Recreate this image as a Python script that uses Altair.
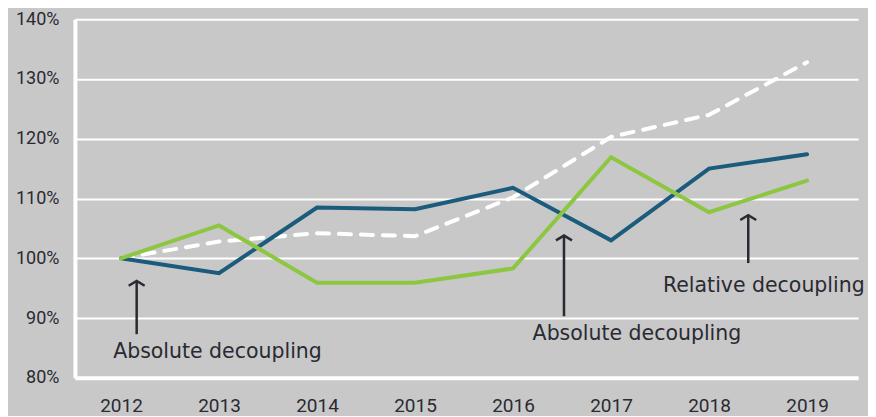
import altair as alt
import pandas as pd

years = [2012, 2013, 2014, 2015, 2016, 2017, 2018, 2019]
blue = [100.0, 97.5, 108.5, 108.2, 111.8, 103.0, 115.0, 117.4]
green = [100.0, 105.5, 95.9, 95.9, 98.3, 116.9, 107.7, 113.0]
dashed = [100.0, 102.8, 104.2, 103.7, 110.2, 120.3, 124.0, 132.8]

arrow_x = [2012.16, 2016.52, 2018.40]
arrow_top = [96.2, 103.8, 107.2]
arrow_bottom = [87.3, 90.3, 99.2]

label_text = ["Absolute decoupling", "Absolute decoupling", "Relative decoupling"]
label_x = [2011.92, 2016.20, 2017.53]
label_y = [83.3, 86.3, 94.3]

y_ticks = [80, 90, 100, 110, 120, 130, 140]

BG = "#c8c8c8"
INK = "#2a2a32"
FONT = "Roboto"
ANN_FONT = "DejaVu Sans"

rows = []
for name, vals in [("blue", blue), ("green", green), ("dashed", dashed)]:
    for yr, v in zip(years, vals):
        rows.append({"year": yr, "value": v, "series": name})
df = pd.DataFrame(rows)

arrows = pd.DataFrame({"x": arrow_x, "top": arrow_top, "bottom": arrow_bottom})
labels = pd.DataFrame({"text": label_text, "x": label_x, "y": label_y})

xscale = alt.Scale(domain=[2011.53, 2019.52], nice=False, zero=False)
yscale = alt.Scale(domain=[80, 140], nice=False, zero=False)

xaxis = alt.Axis(values=years, format="d", title=None, grid=False, ticks=False,
                 domain=True, domainColor="white", domainWidth=4,
                 labelFont=FONT, labelFontSize=19, labelColor=INK,
                 labelPadding=19)
yaxis = alt.Axis(values=y_ticks, labelExpr="datum.value + '%'", title=None,
                 grid=True, gridColor="white", gridWidth=2, ticks=False,
                 domain=True, domainColor="white", domainWidth=4,
                 labelFont=FONT, labelFontSize=18, labelColor=INK,
                 labelPadding=16)

base = alt.Chart(df)

solid = base.transform_filter(alt.datum.series != "dashed").mark_line(
    strokeWidth=4, strokeCap="round", strokeJoin="miter"
).encode(
    x=alt.X("year:Q", scale=xscale, axis=xaxis),
    y=alt.Y("value:Q", scale=yscale, axis=yaxis),
    color=alt.Color("series:N", scale=alt.Scale(domain=["blue", "green"],
                                                 range=["#1b5b7c", "#8dc641"]),
                    legend=None),
    order=alt.Order("year:Q"),
)

dash = base.transform_filter(alt.datum.series == "dashed").mark_line(
    strokeWidth=4, color="white", strokeDash=[12, 10], strokeCap="round"
).encode(
    x=alt.X("year:Q", scale=xscale),
    y=alt.Y("value:Q", scale=yscale),
)

stems = alt.Chart(arrows).mark_rule(color=INK, strokeWidth=2.5).encode(
    x=alt.X("x:Q", scale=xscale),
    y=alt.Y("top:Q", scale=yscale),
    y2="bottom:Q",
)

heads = alt.Chart(arrows).mark_point(
    shape="M-1,0.6L0,0L1,0.6", filled=False, color=INK, strokeWidth=2.5,
    size=256, opacity=1
).encode(
    x=alt.X("x:Q", scale=xscale),
    y=alt.Y("top:Q", scale=yscale),
)

texts = alt.Chart(labels).mark_text(
    align="left", baseline="alphabetic", font=ANN_FONT, fontSize=20.5, color=INK
).encode(
    x=alt.X("x:Q", scale=xscale),
    y=alt.Y("y:Q", scale=yscale),
    text="text:N",
)

chart = alt.layer(dash, solid, stems, heads, texts).properties(
    width=784, height=359,
    autosize=alt.AutoSizeParams(type="none"),
    padding={"left": 67, "top": 11, "right": 10, "bottom": 38},
    background=BG,
).configure_view(stroke=None, fill=BG)

chart.save("out.html", embed_options={"renderer": "svg", "actions": False})
